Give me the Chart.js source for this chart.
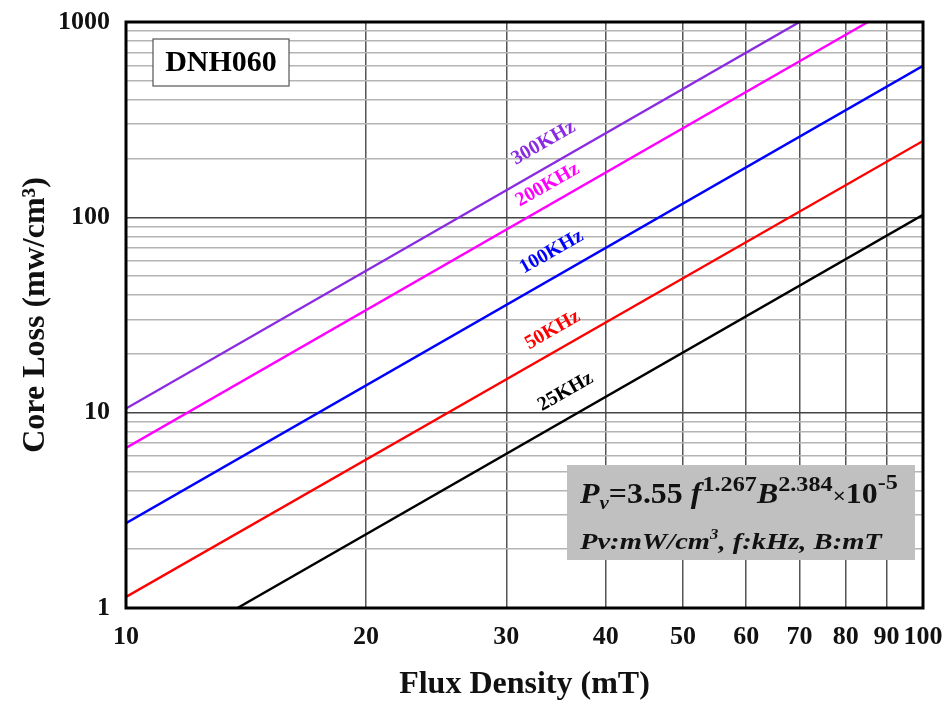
<!DOCTYPE html>
<html>
<head>
<meta charset="utf-8">
<script src="https://cdn.jsdelivr.net/npm/chart.js@4.4.1/dist/chart.umd.min.js"></script>
<style>
  html, body { margin: 0; padding: 0; background: #fff; }
  #wrap { width: 948px; height: 702px; position: relative; }
</style>
</head>
<body>
<div id="wrap"><canvas id="c" width="948" height="702"></canvas></div>
<script>
// ---- data ----
const seriesNames  = ['300KHz', '200KHz', '100KHz', '50KHz', '25KHz'];
const seriesColors = ['#8a2be2', '#ff00ff', '#0000ff', '#ff0000', '#000000'];
const fluxStart = [10, 10, 10, 10, 13.8];      // mT
const lossStart = [10.5, 6.6, 2.72, 1.14, 1];  // mW/cm3
const fluxEnd   = [70, 85.3, 100, 100, 100];
const lossEnd   = [1000, 1000, 596, 246, 103];
// label anchors (data coordinates)
const labelFlux = [33.4, 33.8, 34.2, 34.3, 35.6];
const labelLoss = [240, 146.5, 66.5, 26.5, 12.8];
const xTicks = [10, 20, 30, 40, 50, 60, 70, 80, 90, 100];
const yTicks = [1, 10, 100, 1000];
const chartTag = 'DNH060';

const SERIF = '"Liberation Serif", "Times New Roman", serif';

const datasets = seriesNames.map((n, i) => ({
  label: n,
  data: [{x: fluxStart[i], y: lossStart[i]}, {x: fluxEnd[i], y: lossEnd[i]}],
  borderColor: seriesColors[i],
  backgroundColor: seriesColors[i],
  borderWidth: 2.4,
  pointRadius: 0,
  fill: false,
  tension: 0
}));

const decorPlugin = {
  id: 'decor',
  afterDatasetsDraw(chart) {
    const {ctx, chartArea: a, scales: {x, y}} = chart;
    ctx.save();
    // line labels
    seriesNames.forEach((n, i) => {
      const x1 = x.getPixelForValue(fluxStart[i]), y1 = y.getPixelForValue(lossStart[i]);
      const x2 = x.getPixelForValue(fluxEnd[i]), y2 = y.getPixelForValue(lossEnd[i]);
      const ang = Math.atan2(y2 - y1, x2 - x1);
      const px = x.getPixelForValue(labelFlux[i]), py = y.getPixelForValue(labelLoss[i]);
      ctx.save();
      ctx.translate(px, py);
      ctx.rotate(ang);
      ctx.fillStyle = seriesColors[i];
      ctx.font = 'bold 20px ' + SERIF;
      ctx.textAlign = 'center';
      ctx.textBaseline = 'middle';
      ctx.fillText(n, 0, 0);
      ctx.restore();
    });

    // tag box
    const bx = a.left + 27, by = a.top + 17, bw = 136, bh = 47;
    ctx.fillStyle = '#fff';
    ctx.fillRect(bx, by, bw, bh);
    ctx.strokeStyle = '#555';
    ctx.lineWidth = 1.2;
    ctx.strokeRect(bx, by, bw, bh);
    ctx.fillStyle = '#000';
    ctx.font = 'bold 30px ' + SERIF;
    ctx.textAlign = 'center';
    ctx.textBaseline = 'middle';
    ctx.fillText(chartTag, bx + bw / 2, by + bh / 2 + 1);

    // formula box
    const fx = a.left + 441, fy = a.top + 443, fw = 348, fh = 95;
    ctx.fillStyle = '#c0c0c0';
    ctx.fillRect(fx, fy, fw, fh);
    ctx.fillStyle = '#111';
    ctx.textAlign = 'left';
    ctx.textBaseline = 'alphabetic';
    const runs = (arr, sx, base, hs) => {
      ctx.save();
      ctx.translate(sx, base);
      ctx.scale(hs, 1);
      let cx = 0;
      arr.forEach(r => {
        ctx.font = r.f;
        ctx.fillText(r.t, cx, (r.dy || 0));
        cx += ctx.measureText(r.t).width + (r.gap || 0);
      });
      ctx.restore();
    };
    const big = 'italic bold 29px ' + SERIF;
    const bigU = 'bold 29px ' + SERIF;
    const sup = 'bold 22px ' + SERIF;
    runs([
      {t: 'P', f: big},
      {t: 'v', f: 'italic bold 19px ' + SERIF, dy: 6},
      {t: '=3.55 ', f: bigU},
      {t: 'f', f: big, gap: 1},
      {t: '1.267', f: sup, dy: -12},
      {t: 'B', f: big},
      {t: '2.384', f: sup, dy: -12},
      {t: '\u00d7', f: 'bold 21px ' + SERIF},
      {t: '10', f: bigU},
      {t: '-5', f: sup, dy: -14}
    ], fx + 13, fy + 38, 1.1);
    const sm = 'italic bold 24px ' + SERIF;
    runs([
      {t: 'Pv:mW/cm', f: sm},
      {t: '3', f: 'italic bold 14px ' + SERIF, dy: -10},
      {t: ', f:kHz, B:mT', f: sm}
    ], fx + 13, fy + 84, 1.19);

    // plot frame
    ctx.strokeStyle = '#000';
    ctx.lineWidth = 3;
    ctx.strokeRect(a.left, a.top, a.right - a.left, a.bottom - a.top);
    ctx.restore();
  }
};

const isMajorY = v => { const l = Math.log10(v); return Math.abs(l - Math.round(l)) < 1e-6; };

new Chart(document.getElementById('c'), {
  type: 'line',
  data: { datasets },
  options: {
    responsive: false,
    animation: false,
    devicePixelRatio: 1,
    layout: { padding: { left: 0, right: 25, top: 22, bottom: 0 } },
    plugins: { legend: { display: false }, tooltip: { enabled: false } },
    scales: {
      x: {
        type: 'logarithmic',
        min: 10, max: 100,
        afterBuildTicks(scale) { scale.ticks = xTicks.map(v => ({value: v})); },
        afterFit(scale) { scale.height = 94; scale.paddingLeft = 0; scale.paddingRight = 0; },
        grid: { color: '#555', lineWidth: 1.5, drawTicks: false },
        border: { display: false },
        ticks: {
          autoSkip: false, maxRotation: 0, padding: 14,
          color: '#111',
          font: { family: SERIF, size: 26, weight: 'bold' },
          callback: v => String(v)
        },
        title: {
          display: true, text: 'Flux Density (mT)', color: '#111',
          font: { family: SERIF, size: 32, weight: 'bold', lineHeight: 1.0 },
          padding: { top: 0, bottom: 1 }
        }
      },
      y: {
        type: 'logarithmic',
        min: 1, max: 1000,
        afterBuildTicks(scale) {
          const t = [];
          for (let d = 1; d < 1000; d *= 10) for (let k = 1; k < 10; k++) t.push({value: d * k, major: k === 1});
          t.push({value: 1000, major: true});
          scale.ticks = t;
        },
        afterFit(scale) { scale.width = 126; scale.paddingTop = 0; scale.paddingBottom = 0; },
        grid: {
          color: ctx => (ctx.tick && isMajorY(ctx.tick.value)) ? '#444' : '#b4b4b4',
          lineWidth: 1.5, drawTicks: false
        },
        border: { display: false },
        ticks: {
          autoSkip: false, padding: 16,
          color: '#111',
          font: { family: SERIF, size: 26, weight: 'bold' },
          callback: v => yTicks.includes(v) ? String(v) : ''
        },
        title: {
          display: true, text: 'Core Loss (mw/cm\u00b3)', color: '#111',
          font: { family: SERIF, size: 32, weight: 'bold', lineHeight: 1.0 },
          padding: { top: 20, bottom: 0 }
        }
      }
    }
  },
  plugins: [decorPlugin]
});
</script>
</body>
</html>
